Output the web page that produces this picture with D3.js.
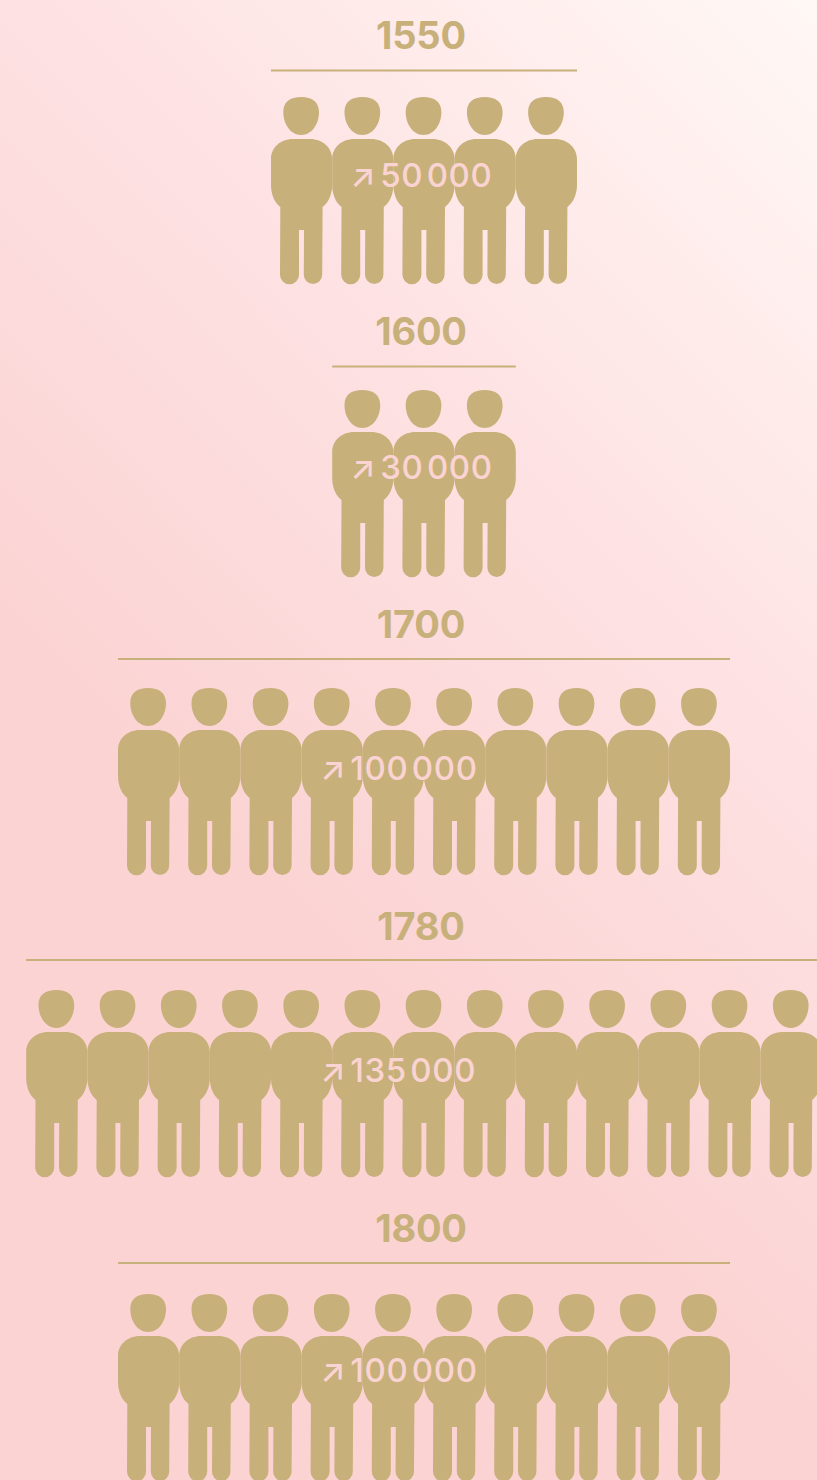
<!DOCTYPE html>
<html>
<head>
<meta charset="utf-8">
<script src="https://cdn.jsdelivr.net/npm/d3@7"></script>
<style>
  html, body { margin: 0; padding: 0; overflow: hidden; }
  svg { display: block; }
  text { font-family: Inter, "Liberation Sans", sans-serif; }
</style>
</head>
<body>
<div id="chart"></div>
<script>
// values
const years = ["1550", "1600", "1700", "1780", "1800"];
const population = [50000, 30000, 100000, 135000, 100000];
const perFigure = 10000;

// row layout
const yearY = [35, 331, 624, 926, 1228];
const ruleY = [70.5, 366.5, 659, 960, 1263];
const figureY = [97, 390, 688, 990, 1294];
const labelY = [175, 467, 768, 1070, 1370];
const labelX = [350, 350, 320, 320, 320];

const width = 817, height = 1480;
const tan = "#c8b07b", pale = "#fad4d2";

// one person, 61.2 wide and 187 tall
const personPath =
  "M30.2,0C41,0 48,5 48,15C48,27 41,38 30.2,38C19.5,38 12.3,27 12.3,15C12.3,5 19,0 30.2,0Z" +
  "M22,42H39C52,42 61.2,51 61.2,62V88C61.2,98 57,106 51.6,110L51.2,177.8A9.2,9.2 0 0 1 32.8,177.8L33,133H28V177.8" +
  "A9.4,9.4 0 0 1 9,177.8L9.3,110C4,106 0,98 0,88V62C0,51 9,42 22,42Z";

const svg = d3.select("#chart").append("svg")
  .attr("width", width)
  .attr("height", height);

const grad = svg.append("defs").append("linearGradient")
  .attr("id", "bg")
  .attr("gradientUnits", "userSpaceOnUse")
  .attr("x1", 817).attr("y1", 0)
  .attr("x2", 100).attr("y2", 720);
[[0, "#fff8f5"], [0.5, "#fee3e4"], [1, "#fbd3d3"]].forEach(s => {
  grad.append("stop").attr("offset", s[0]).attr("stop-color", s[1]);
});

svg.append("rect")
  .attr("width", width)
  .attr("height", height)
  .attr("fill", "url(#bg)");

// figure slots, centred on x = 424
const x = d3.scaleLinear().domain([-6.5, 6.5]).range([26.2, 821.8]);
const fmt = d3.formatLocale({ thousands: "\u200a", grouping: [3], decimal: ".", currency: ["", ""] }).format(",");

const rows = svg.selectAll(".row")
  .data(years)
  .enter()
  .append("g")
  .attr("class", "row");

rows.append("text")
  .attr("x", 421)
  .attr("y", (d, i) => yearY[i])
  .attr("dy", ".36em")
  .attr("text-anchor", "middle")
  .attr("font-size", 38)
  .attr("font-weight", 700)
  .attr("letter-spacing", -0.2)
  .attr("fill", tan)
  .text(d => d);

rows.append("line")
  .attr("x1", (d, i) => x(-Math.floor(population[i] / perFigure) / 2))
  .attr("x2", (d, i) => Math.min(width, x(Math.floor(population[i] / perFigure) / 2)))
  .attr("y1", (d, i) => ruleY[i])
  .attr("y2", (d, i) => ruleY[i])
  .attr("stroke", tan)
  .attr("stroke-width", 2);

rows.each(function (d, i) {
  const n = Math.floor(population[i] / perFigure);
  d3.select(this).selectAll(".person")
    .data(d3.range(n))
    .enter()
    .append("path")
    .attr("class", "person")
    .attr("d", personPath)
    .attr("fill", tan)
    .attr("transform", k => "translate(" + x(k - n / 2) + "," + figureY[i] + ")");
});

const labels = rows.append("text")
  .attr("x", (d, i) => labelX[i])
  .attr("y", (d, i) => labelY[i])
  .attr("dy", ".36em")
  .attr("font-size", 33)
  .attr("font-weight", 500)
  .attr("letter-spacing", 0.6)
  .attr("fill", pale);

labels.append("tspan").text("\u2197");
labels.append("tspan")
  .attr("dx", 4)
  .text((d, i) => fmt(population[i]));
</script>
</body>
</html>
